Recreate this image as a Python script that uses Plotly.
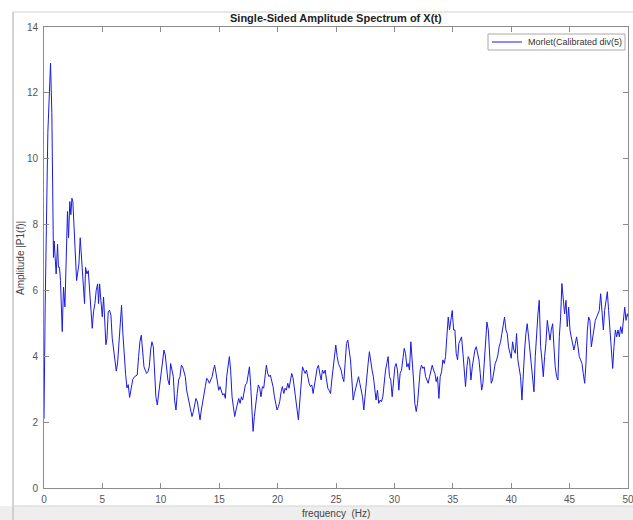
import plotly.graph_objects as go

# Single-sided amplitude spectrum, traced sample points (frequency in Hz, amplitude)
freq = [
    0.00, 0.10, 0.33, 0.56, 0.67, 0.81, 0.87, 0.96, 1.04, 1.16, 1.24, 1.33, 1.41, 1.56, 1.67, 1.79,
    1.90, 2.01, 2.10, 2.21, 2.30, 2.39, 2.47, 2.59, 2.70, 2.79, 2.87, 2.99, 3.10, 3.21, 3.36, 3.47,
    3.56, 3.67, 3.79, 3.90, 4.01, 4.13, 4.24, 4.36, 4.47, 4.59, 4.67, 4.76, 4.87, 4.99, 5.10, 5.21,
    5.30, 5.39, 5.50, 5.61, 5.73, 5.84, 5.96, 6.07, 6.19, 6.30, 6.41, 6.53, 6.64, 6.76, 6.87, 6.99,
    7.10, 7.21, 7.33, 7.45, 7.60,
    7.75, 7.98, 8.10, 8.21, 8.33, 8.44, 8.56, 8.67, 8.78, 8.90, 9.01, 9.13, 9.24, 9.36, 9.47, 9.58,
    9.70, 9.81, 9.93, 10.04, 10.15, 10.27, 10.38, 10.50, 10.61, 10.73, 10.84, 10.96, 11.07, 11.18,
    11.30, 11.41, 11.53, 11.64, 11.76, 11.87, 11.98, 12.10, 12.21, 12.33, 12.44, 12.56, 12.67, 12.79,
    12.90, 13.01, 13.13, 13.24, 13.36, 13.47, 13.59, 13.70, 13.81, 13.93, 14.04, 14.16, 14.27, 14.39,
    14.50, 14.61, 14.73, 14.84, 14.96, 15.07, 15.19, 15.30, 15.41, 15.53, 15.64, 15.76, 15.87, 15.98,
    16.10, 16.21, 16.33, 16.44, 16.56, 16.67, 16.79, 16.90, 17.01, 17.13, 17.24, 17.36, 17.47, 17.59,
    17.70, 17.81, 17.90, 18.01, 18.12, 18.24, 18.35, 18.47, 18.58, 18.70, 18.81, 18.92, 19.04, 19.15,
    19.27, 19.38, 19.50, 19.61, 19.73, 19.84, 19.95, 20.07, 20.18, 20.30, 20.41, 20.53, 20.64, 20.75,
    20.87, 20.98, 21.10, 21.21, 21.33, 21.44, 21.55, 21.67, 21.78, 21.90, 22.01, 22.13, 22.24, 22.36,
    22.47, 22.58, 22.70, 22.81, 22.93, 23.04, 23.15, 23.27, 23.38, 23.50, 23.61, 23.73, 23.84, 23.96,
    24.07, 24.18, 24.30, 24.41, 24.53, 24.64, 24.75, 24.87, 24.98, 25.10, 25.21, 25.33, 25.44, 25.55,
    25.67, 25.78, 25.90, 26.01, 26.13, 26.24, 26.36, 26.47, 26.58, 26.70, 26.81, 26.93, 27.04, 27.15,
    27.27, 27.38, 27.50, 27.61, 27.75, 27.86, 27.98, 28.09, 28.20, 28.32, 28.43, 28.55, 28.66, 28.78,
    28.89, 29.01, 29.12, 29.24, 29.35, 29.46, 29.58, 29.69, 29.81, 29.92, 30.04, 30.15, 30.26, 30.38,
    30.49, 30.61, 30.72, 30.84, 30.95, 31.07, 31.18, 31.29, 31.41, 31.52, 31.64, 31.75, 31.87, 31.98,
    32.09, 32.21, 32.32, 32.44, 32.55, 32.67, 32.78, 32.89, 33.01, 33.12, 33.24, 33.35, 33.47, 33.58,
    33.69, 33.81, 33.92, 34.04, 34.15, 34.27, 34.38, 34.49, 34.61, 34.72, 34.84, 34.95, 35.07, 35.18,
    35.29, 35.41, 35.52, 35.64, 35.75, 35.87, 35.98, 36.09, 36.21, 36.32, 36.44, 36.55, 36.67, 36.78,
    36.89, 37.01, 37.12, 37.24, 37.35, 37.47, 37.58, 37.69, 37.81, 37.92, 38.04, 38.15, 38.29, 38.40,
    38.52, 38.63, 38.75, 38.86, 38.97, 39.09, 39.20, 39.32, 39.43, 39.55, 39.66, 39.77, 39.89, 40.00,
    40.12, 40.23, 40.35, 40.46, 40.57, 40.69, 40.80, 40.92, 41.03, 41.15, 41.26, 41.37, 41.49, 41.60,
    41.72, 41.83, 41.95, 42.06, 42.17, 42.29, 42.40, 42.52, 42.63, 42.75, 42.86, 42.97, 43.09, 43.20,
    43.32, 43.43, 43.55, 43.66, 43.77, 43.89, 44.00, 44.12, 44.23, 44.34, 44.46, 44.57, 44.69, 44.80,
    44.92, 45.03, 45.14, 45.26, 45.37, 45.49, 45.60, 45.72, 45.83, 45.94, 46.06, 46.17, 46.29, 46.40,
    46.52, 46.63, 46.74, 46.86, 46.97, 47.09, 47.20, 47.32, 47.43, 47.54, 47.66, 47.77, 47.89, 48.00,
    48.12, 48.23, 48.34, 48.46, 48.57, 48.69, 48.80, 48.92, 49.03, 49.14, 49.26, 49.37, 49.49, 49.60,
    49.72, 49.83, 49.94, 50.00,
]

amp = [
    2.10, 5.50, 10.80, 12.90, 11.40, 7.00, 7.50, 6.80, 6.50, 7.40, 6.70, 6.70, 6.30, 4.75, 6.10, 5.50,
    7.30, 8.40, 7.60, 8.70, 8.30, 8.80, 8.70, 7.70, 6.70, 6.30, 6.50, 6.80, 7.60, 6.90, 6.10, 5.60,
    6.70, 6.50, 6.60, 6.10, 5.50, 4.85, 5.35, 5.60, 6.00, 6.20, 5.60, 6.20, 5.70, 5.20, 5.80, 4.70,
    4.35, 4.55, 5.35, 5.40, 5.25, 4.55, 4.15, 3.75, 3.55, 3.80, 4.35, 4.75, 5.55, 4.65, 3.95, 3.45,
    3.04, 3.14, 2.75, 3.00, 3.30,
    3.38, 3.43, 3.99, 4.44, 4.64, 4.19, 3.68, 3.58, 3.48, 3.53, 3.68, 4.19, 4.44, 4.29, 3.58, 2.77,
    2.52, 2.87, 3.28, 3.48, 3.89, 4.19, 4.04, 3.68, 3.28, 3.13, 3.78, 3.58, 3.38, 2.67,
    2.37, 2.87, 3.28, 3.38, 3.73, 3.68, 3.48, 3.38, 2.97, 2.77, 2.57, 2.37, 2.17, 2.32,
    2.57, 2.72, 2.62, 2.27, 2.07, 2.37, 2.67, 2.87, 3.08, 3.33, 3.28, 3.18, 3.28, 3.38,
    3.58, 3.73, 3.48, 3.28, 2.97, 3.08, 2.97, 2.82, 2.87, 2.72, 3.38, 3.78, 3.99, 3.58,
    2.77, 2.47, 2.17, 2.37, 2.62, 2.72, 2.57, 2.77, 2.67, 2.97, 3.13, 3.18, 3.48, 3.68,
    3.08, 2.37, 1.72, 2.17, 2.57, 2.87, 3.13, 3.03, 2.77, 3.08, 3.03, 3.38, 3.73, 3.48,
    3.38, 3.43, 3.28, 3.08, 2.77, 2.57, 2.37, 2.47, 2.62, 2.92, 3.08, 2.87, 3.03, 2.97,
    3.18, 3.03, 3.28, 3.48, 3.33, 2.97, 2.57, 2.37, 2.07, 2.67, 3.18, 3.68, 3.58, 3.48,
    3.58, 3.38, 3.18, 3.08, 3.13, 2.87, 3.18, 3.38, 3.63, 3.73, 3.48, 3.28, 3.58, 3.48,
    3.58, 3.28, 3.03, 2.97, 2.87, 3.28, 3.68, 3.89, 4.34, 3.99, 3.78, 3.68, 3.58, 3.38,
    3.23, 3.78, 4.39, 4.49, 4.19, 3.89, 3.28, 2.67, 2.87, 3.08, 3.28, 3.38, 3.18, 2.97,
    2.77, 2.37, 2.87, 3.38, 3.78, 4.14, 3.78, 3.58, 3.38, 2.97, 2.67, 2.97, 2.57, 2.67,
    2.62, 2.77, 3.28, 3.58, 3.78, 3.99, 3.38, 3.28, 2.77, 3.18, 3.68, 3.78, 3.58, 2.97,
    3.48, 3.58, 3.89, 4.24, 4.09, 3.68, 3.78, 3.58, 4.44, 3.99, 3.28, 2.57, 2.32, 2.57,
    3.08, 3.58, 3.73, 3.63, 3.68, 3.38, 3.28, 3.18, 3.38, 3.58, 3.73, 3.58, 3.48, 3.23,
    3.38, 2.72, 3.38, 3.53, 3.89, 3.78, 3.99, 4.59, 5.19, 4.80, 5.19, 5.39, 4.80, 4.80,
    4.09, 3.89, 4.39, 4.49, 4.59, 4.09, 3.58, 3.08, 3.68, 3.99, 3.89, 3.28, 3.68, 3.89,
    4.19, 4.29, 4.09, 3.89, 3.48, 2.97, 3.18, 3.78, 4.69, 5.04, 4.80, 4.09, 3.18, 3.28,
    3.58, 3.78, 3.89, 4.04, 4.29, 4.44, 4.69, 4.90, 5.19, 4.80, 4.69, 4.29, 4.04, 3.94,
    4.44, 4.19, 4.09, 4.69, 3.89, 3.63, 3.38, 2.67, 3.58, 4.19, 4.69, 4.99, 4.59, 4.19,
    3.68, 3.28, 2.92, 3.99, 4.80, 5.29, 5.70, 4.29, 3.89, 3.38, 3.99, 4.39, 5.09, 4.80,
    4.49, 4.80, 4.99, 4.29, 3.68, 3.38, 3.28, 4.59, 5.19, 6.21, 5.70, 5.29, 5.70, 4.90,
    5.49, 4.80, 4.59, 4.39, 4.19, 4.39, 4.59, 4.29, 3.99, 3.89, 3.78, 3.48, 3.18, 3.78,
    4.80, 5.19, 5.09, 4.29, 4.59, 4.80, 5.09, 5.19, 5.29, 5.39, 5.90, 5.29, 4.80, 5.39,
    5.80, 5.96, 5.39, 4.80, 4.29, 3.63, 4.29, 4.80, 4.59, 4.80, 4.59, 4.90, 4.69, 5.19,
    5.49, 5.09, 5.29, 5.20,
]

series_name = "Morlet(Calibrated div(5)"
x_ticks = [0, 5, 10, 15, 20, 25, 30, 35, 40, 45, 50]
y_ticks = [0, 2, 4, 6, 8, 10, 12, 14]

W, H = 633, 520
L, R, T, B = 44, 5, 27, 32
pw, ph = W - L - R, H - T - B
LINE_COLOR = "#1a1ae6"
FONT = "Liberation Sans, Arial"


def px(x):
    return (x - L) / pw


def py(y):
    return (H - B - y) / ph


fig = go.Figure()
fig.add_trace(go.Scatter(
    x=freq, y=amp, mode="lines", name=series_name,
    line=dict(color=LINE_COLOR, width=1), showlegend=False,
))

axis_common = dict(
    showline=True, linecolor="#8c8c8c", linewidth=1, mirror="ticks",
    ticks="inside", ticklen=5, tickcolor="#8c8c8c", tickwidth=1,
    showgrid=False, zeroline=False, ticklabeloverflow="allow", automargin=False,
    tickfont=dict(family=FONT, size=10, color="#555555"),
)

fig.update_layout(
    width=W, height=H,
    margin=dict(l=L, r=R, t=T, b=B, autoexpand=False),
    paper_bgcolor="white", plot_bgcolor="white",
    xaxis=dict(range=[0, 50], tickvals=x_ticks, ticklabelstandoff=2, **axis_common),
    yaxis=dict(range=[0, 14], tickvals=y_ticks, ticklabelstandoff=3, **axis_common),
    annotations=[
        dict(text="<b>Single-Sided Amplitude Spectrum of X(t)</b>", xref="paper", yref="paper",
             x=0.5, y=py(18), xanchor="center", yanchor="middle", showarrow=False,
             font=dict(family=FONT, size=11, color="#222222")),
        dict(text="frequency  (Hz)", xref="paper", yref="paper",
             x=0.5, y=py(513), xanchor="center", yanchor="middle", showarrow=False,
             font=dict(family=FONT, size=10, color="#444444")),
        dict(text="Amplitude |P1(f)|", xref="paper", yref="paper", textangle=-90,
             x=px(20), y=py(258), xanchor="center", yanchor="middle", showarrow=False,
             font=dict(family=FONT, size=10, color="#444444")),
        # compact legend label
        dict(text=series_name, xref="paper", yref="paper",
             x=px(526), y=py(42), xanchor="left", yanchor="middle", showarrow=False,
             font=dict(family=FONT, size=9, color="#333333")),
    ],
    shapes=[
        # window frame around the figure
        dict(type="rect", xref="paper", yref="paper", layer="below",
             x0=px(0), x1=px(W), y0=py(H), y1=py(506),
             fillcolor="#eeeeee", line=dict(width=0)),
        dict(type="line", xref="paper", yref="paper", layer="below",
             x0=px(13), x1=px(13), y0=py(12), y1=py(H),
             line=dict(color="#c4c4c4", width=1.5)),
        dict(type="line", xref="paper", yref="paper", layer="below",
             x0=px(13), x1=px(W), y0=py(12), y1=py(12),
             line=dict(color="#d0d0d0", width=1)),
        dict(type="line", xref="paper", yref="paper", layer="below",
             x0=px(13), x1=px(W), y0=py(506), y1=py(506),
             line=dict(color="#d6d6d6", width=1)),
        # legend box and line sample
        dict(type="rect", xref="paper", yref="paper",
             x0=px(488), x1=px(625), y0=py(50), y1=py(34),
             fillcolor="white", line=dict(color="#a8a8a8", width=1)),
        dict(type="line", xref="paper", yref="paper",
             x0=px(492), x1=px(522), y0=py(42), y1=py(42),
             line=dict(color=LINE_COLOR, width=1)),
    ],
)

fig.write_html("out.html")
